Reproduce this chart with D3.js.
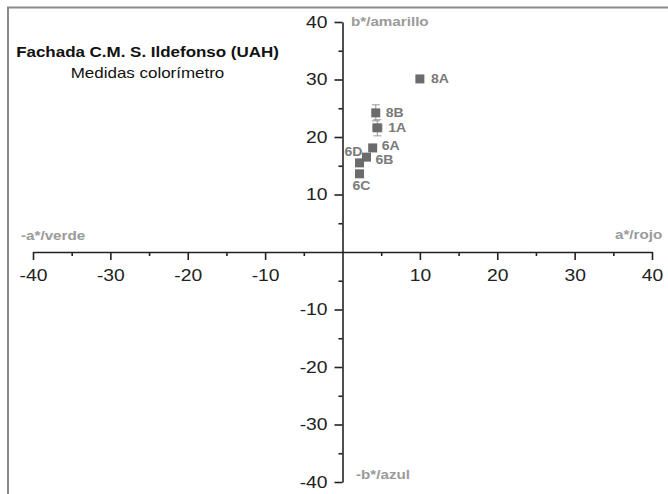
<!DOCTYPE html>
<html>
<head>
<meta charset="utf-8">
<script src="https://cdn.jsdelivr.net/npm/d3@7"></script>
<style>
  body { margin: 0; background: #fff; }
  svg { display: block; font-family: "Liberation Sans", Arial, sans-serif; }
</style>
</head>
<body>
<script>
'use strict';

// chart data
let sampleNames = ["8A", "8B", "1A", "6A", "6B", "6D", "6C"];
let aValues = [10.0, 4.3, 4.5, 3.9, 3.1, 2.2, 2.2];
let bValues = [30.1, 24.2, 21.6, 18.1, 16.5, 15.5, 13.6];
let aErrors = [0, 0, 0.6, 0, 0, 0, 0];
let bErrors = [0, 1.4, 1.4, 0, 0, 0, 0];
let majorTicks = [-40, -30, -20, -10, 10, 20, 30, 40];
let minorTicks = [-35, -25, -15, -5, 5, 15, 25, 35];

// the original picture is a bit wider than tall, text looks stretched
let stretch = 1.17;

let svgContainer = d3.select('body')
  .append('svg')
  .attr('width', 668)
  .attr('height', 494);

// frame (only top and left edge visible)
svgContainer.append('path')
  .attr('d', 'M8,494V7.5H668')
  .attr('fill', 'none')
  .attr('stroke', '#8a8a8a')
  .attr('stroke-width', 2);

let xScale = d3.scaleLinear().domain([-40, 40]).range([33, 652]);
let yScale = d3.scaleLinear().domain([-40, 40]).range([482, 22]);
let x0 = xScale(0), y0 = yScale(0);

// x axis through the origin, ticks pointing down
let xAxis = svgContainer.append('g').attr('transform', 'translate(0,' + y0 + ')');
xAxis.append('g').attr('class', 'minor')
  .call(d3.axisBottom(xScale).tickValues(minorTicks).tickSize(4).tickFormat('').tickSizeOuter(0))
  .select('.domain').remove();
let xMajor = xAxis.append('g')
  .call(d3.axisBottom(xScale).tickValues(majorTicks).tickSize(8).tickPadding(9).tickSizeOuter(0)
    .tickFormat((d) => d < 0 ? '-' + Math.abs(d) : d));

// y axis through the origin, ticks pointing left
let yAxis = svgContainer.append('g').attr('transform', 'translate(' + x0 + ',0)');
yAxis.append('g').attr('class', 'minor')
  .call(d3.axisLeft(yScale).tickValues(minorTicks).tickSize(4).tickFormat('').tickSizeOuter(0))
  .select('.domain').remove();
let yMajor = yAxis.append('g')
  .call(d3.axisLeft(yScale).tickValues(majorTicks).tickSize(8).tickPadding(7).tickSizeOuter(0)
    .tickFormat((d) => d < 0 ? '-' + Math.abs(d) : d));

svgContainer.selectAll('.domain').attr('stroke', '#222').attr('stroke-width', 1.6);
svgContainer.selectAll('.tick line').attr('stroke', '#222').attr('stroke-width', 1.6);
svgContainer.selectAll('.minor .tick text').remove();

xMajor.selectAll('.tick text')
  .attr('font-size', 16.5)
  .attr('font-family', '"Liberation Sans", Arial, sans-serif')
  .attr('fill', '#222')
  .attr('dy', '0.71em')
  .attr('transform', 'scale(' + stretch + ',1)');
yMajor.selectAll('.tick text')
  .attr('font-size', 16.5)
  .attr('font-family', '"Liberation Sans", Arial, sans-serif')
  .attr('fill', '#222')
  .attr('x', -15 / stretch)
  .attr('transform', 'scale(' + stretch + ',1)');

// place a text element at (x, y) and stretch it horizontally
function stretchedText(x, y, t) {
  return svgContainer.append('text')
    .attr('transform', 'translate(' + x + ',' + y + ') scale(' + stretch + ',1)')
    .text(t);
}

// axis captions
let captions = [
  { t: '-a*/verde', x: 21, y: 240 },
  { t: 'a*/rojo', x: 615, y: 239 },
  { t: 'b*/amarillo', x: 351, y: 26 },
  { t: '-b*/azul', x: 356, y: 479 }
];
captions.forEach((d) => {
  stretchedText(d.x, d.y, d.t)
    .attr('font-size', 13)
    .attr('font-weight', 'bold')
    .attr('fill', '#9a9a9a');
});

// title block
stretchedText(147.5, 57, 'Fachada C.M. S. Ildefonso (UAH)')
  .attr('text-anchor', 'middle')
  .attr('font-size', 14.5)
  .attr('font-weight', 'bold')
  .attr('fill', '#111');
stretchedText(147.5, 78, 'Medidas colorímetro')
  .attr('text-anchor', 'middle')
  .attr('font-size', 14.5)
  .attr('fill', '#111');

let points = sampleNames.map((n, i) => ({
  name: n, a: aValues[i], b: bValues[i], ea: aErrors[i], eb: bErrors[i]
}));

// error bars
let errG = svgContainer.append('g').attr('stroke', '#999').attr('stroke-width', 1);
points.filter((d) => d.eb > 0).forEach((d) => {
  let cx = xScale(d.a);
  errG.append('line').attr('x1', cx).attr('x2', cx)
    .attr('y1', yScale(d.b + d.eb)).attr('y2', yScale(d.b - d.eb));
  [d.b + d.eb, d.b - d.eb].forEach((v) => {
    errG.append('line').attr('x1', cx - 4).attr('x2', cx + 4)
      .attr('y1', yScale(v)).attr('y2', yScale(v));
  });
});
points.filter((d) => d.ea > 0).forEach((d) => {
  let cy = yScale(d.b);
  errG.append('line').attr('y1', cy).attr('y2', cy)
    .attr('x1', xScale(d.a - d.ea)).attr('x2', xScale(d.a + d.ea));
  [d.a - d.ea, d.a + d.ea].forEach((v) => {
    errG.append('line').attr('y1', cy - 4).attr('y2', cy + 4)
      .attr('x1', xScale(v)).attr('x2', xScale(v));
  });
});

// squares
svgContainer.selectAll('.dot')
  .data(points)
  .enter()
  .append('rect')
    .attr('x', (d) => xScale(d.a) - 4.5)
    .attr('y', (d) => yScale(d.b) - 4.5)
    .attr('width', 9)
    .attr('height', 9)
    .attr('fill', '#6b6b6b');

// point labels
let labelOffsets = {
  '8A': [11, 4], '8B': [10, 4], '1A': [11, 4],
  '6A': [9, 2], '6B': [9, 7], '6D': [-15, -7], '6C': [-7, 16]
};
points.forEach((d) => {
  stretchedText(xScale(d.a) + labelOffsets[d.name][0], yScale(d.b) + labelOffsets[d.name][1], d.name)
    .attr('font-size', 12)
    .attr('font-weight', 'bold')
    .attr('fill', '#7a7a7a');
});
</script>
</body>
</html>
